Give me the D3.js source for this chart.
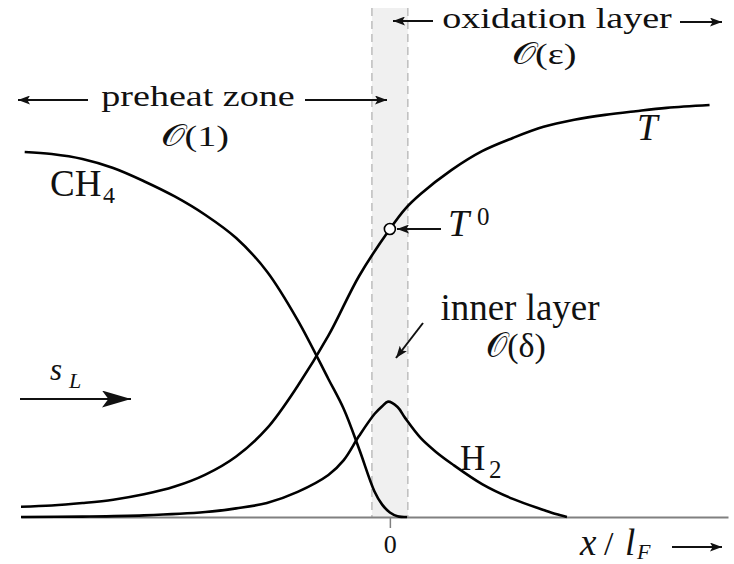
<!DOCTYPE html>
<html>
<head>
<meta charset="utf-8">
<script src="https://cdn.jsdelivr.net/npm/d3@7"></script>
<style>
  html, body { margin: 0; padding: 0; background: #fff; }
  svg { display: block; }
  text { font-family: "Liberation Serif", "DejaVu Serif", serif; fill: #111; }
</style>
</head>
<body>
<svg id="chart" width="734" height="564"></svg>
<script>
// Premixed methane flame structure, coordinate x / l_F (flame at x = 0)

// Temperature profile
const tempX = [-3, -2.75, -2.5, -2.25, -2, -1.75, -1.5, -1.25, -1, -0.75, -0.5, -0.25,
               0, 0.125, 0.25, 0.5, 0.75, 1, 1.25, 1.5, 1.75, 2, 2.25, 2.6];
const tempValues = [0.025, 0.028, 0.034, 0.042, 0.055, 0.074, 0.103, 0.147, 0.215, 0.318, 0.44, 0.585,
                    0.699, 0.748, 0.784, 0.842, 0.888, 0.920, 0.947, 0.964, 0.976, 0.985, 0.993, 1.0];

// Methane mass fraction
const ch4X = [-2.97, -2.75, -2.5, -2.25, -2, -1.75, -1.5, -1.25, -1, -0.75, -0.5, -0.375,
              -0.25, -0.125, -0.0625, 0, 0.0625, 0.14];
const ch4Values = [0.886, 0.881, 0.869, 0.847, 0.815, 0.778, 0.733, 0.677, 0.596, 0.478, 0.335, 0.262,
                   0.165, 0.062, 0.030, 0.011, 0.002, 0];

// Hydrogen mass fraction
const h2X = [-3, -2.5, -2, -1.5, -1.25, -1, -0.75, -0.5, -0.375, -0.25, -0.125, -0.0625, -0.015,
             0.0625, 0.125, 0.25, 0.375, 0.5, 0.75, 1, 1.25, 1.35, 1.44];
const h2Values = [0.0, 0.001, 0.004, 0.012, 0.021, 0.034, 0.061, 0.102, 0.138, 0.197, 0.250, 0.269, 0.280,
                  0.267, 0.240, 0.192, 0.158, 0.130, 0.080, 0.044, 0.017, 0.007, 0];

// Axis ticks and the inner-layer band (in x / l_F)
const tickValues = [0];
const tickLabels = ["0"];
const innerBand = [-0.146, 0.146];

const svg = d3.select("#chart");
const x = d3.scaleLinear().domain([-3, 2.75]).range([21, 728]);
const y = d3.scaleLinear().domain([0, 1]).range([517, 105]);

// arrowheads
const defs = svg.append("defs");
function head(id, len, half) {
  defs.append("marker")
    .attr("id", id)
    .attr("markerUnits", "userSpaceOnUse")
    .attr("viewBox", `0 ${-half} ${len} ${2 * half}`)
    .attr("refX", len).attr("refY", 0)
    .attr("markerWidth", len).attr("markerHeight", 2 * half)
    .attr("orient", "auto")
    .append("path")
    .attr("d", `M0,${-half} L${len},0 L0,${half} L${len * 0.22},0 Z`)
    .attr("fill", "#111");
}
head("hs", 12, 4.5);
head("hb", 29, 8.5);

// inner layer band
svg.append("rect")
  .attr("x", x(innerBand[0])).attr("y", 8)
  .attr("width", x(innerBand[1]) - x(innerBand[0]))
  .attr("height", y(0) - 8)
  .attr("fill", "#f0f0f0");
svg.selectAll("line.edge").data(innerBand).join("line")
  .attr("class", "edge")
  .attr("x1", d => x(d)).attr("x2", d => x(d))
  .attr("y1", 8).attr("y2", y(0))
  .attr("stroke", "#bdbdbd").attr("stroke-width", 1.5)
  .attr("stroke-dasharray", "8,5");

// x axis
const axis = d3.axisBottom(x)
  .tickValues(tickValues)
  .tickFormat((d, i) => tickLabels[i])
  .tickSize(11).tickSizeOuter(0).tickPadding(6);
const gx = svg.append("g").attr("transform", `translate(0,${y(0)})`).call(axis);
gx.select(".domain").attr("stroke", "#808080").attr("stroke-width", 2);
gx.selectAll(".tick line").attr("stroke", "#808080").attr("stroke-width", 1.5);
gx.selectAll(".tick text")
  .attr("font-family", "Liberation Serif").attr("font-size", 26)
  .attr("fill", "#111").attr("dy", null).attr("y", 36);

// profiles
const line = d3.line().x(d => x(d[0])).y(d => y(d[1])).curve(d3.curveCatmullRom.alpha(0.5));
const series = [
  d3.zip(tempX, tempValues),
  d3.zip(ch4X, ch4Values),
  d3.zip(h2X, h2Values)
];
svg.selectAll("path.profile").data(series).join("path")
  .attr("class", "profile")
  .attr("d", line)
  .attr("fill", "none")
  .attr("stroke", "#000")
  .attr("stroke-width", 2.6);

// T0 marker on the temperature curve at x = 0
const i0 = tempX.indexOf(0);
svg.append("circle")
  .attr("cx", x(0)).attr("cy", y(tempValues[i0])).attr("r", 5.5)
  .attr("fill", "#fff").attr("stroke", "#000").attr("stroke-width", 1.6);

// annotations
function arrow(x1, y1, x2, y2, id, w) {
  svg.append("line")
    .attr("x1", x1).attr("y1", y1).attr("x2", x2).attr("y2", y2)
    .attr("stroke", "#111").attr("stroke-width", w || 2)
    .attr("marker-end", `url(#${id})`);
}
function label(px, py, str, opts) {
  const o = opts || {};
  return svg.append("text")
    .attr("transform", `translate(${px},${py}) scale(${o.sx || 1},1)`)
    .attr("text-anchor", o.anchor || "start")
    .attr("font-size", o.size || 36)
    .attr("font-style", o.italic ? "italic" : "normal")
    .text(str);
}

// preheat zone
arrow(88, 100, 18, 100, "hs");
arrow(305, 100, 387, 100, "hs");
label(198, 106, "preheat zone", { size: 30, sx: 1.27, anchor: "middle" });
label(195, 146, "\u{1D4AA}(1)", { size: 30, sx: 1.27, anchor: "middle" });

// oxidation layer
arrow(433, 21, 393, 21, "hs");
arrow(680, 22, 722, 22, "hs");
label(557, 28, "oxidation layer", { size: 30, sx: 1.27, anchor: "middle" });
label(544, 64, "\u{1D4AA}(\u03B5)", { size: 30, sx: 1.27, anchor: "middle" });

// curve labels
label(637, 140, "T", { size: 37, italic: true });
label(50, 196, "CH", { size: 37 });
label(103, 203, "4", { size: 24 });
label(460, 470, "H", { size: 35 });
label(489, 478, "2", { size: 25 });

// T0
arrow(441, 229, 397, 229, "hs");
label(448, 236, "T", { size: 38, italic: true });
label(477, 225, "0", { size: 25 });

// inner layer
label(520, 320, "inner layer", { size: 37, anchor: "middle" });
label(516, 357, "\u{1D4AA}(\u03B4)", { size: 34, anchor: "middle" });
arrow(423, 323, 396, 358, "hs");

// flame speed
label(50, 380, "s", { size: 31, italic: true });
label(69, 388, "L", { size: 22, italic: true });
arrow(20, 399, 131, 399, "hb");

// axis title
label(580, 555, "x", { size: 37, italic: true });
label(604, 555, "/", { size: 34 });
label(625, 555, "l", { size: 37, italic: true });
label(637, 559, "F", { size: 22, italic: true });
arrow(672, 547, 722, 547, "hs");
</script>
</body>
</html>
